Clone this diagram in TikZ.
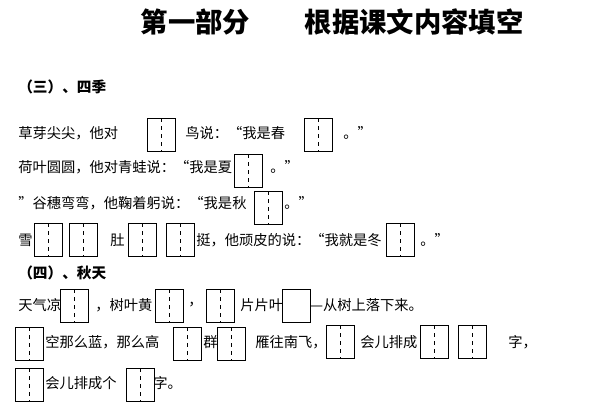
\documentclass[tikz,border=0pt]{standalone}
\usepackage{fontspec}
\setmainfont{Noto Sans CJK SC}
\usepackage{tikz}

\begin{document}
\begin{tikzpicture}[
		x=0.75pt, y=-0.75pt,
		txt/.style = {anchor=west, inner sep=0pt, font=\fontsize{10.7}{12}\selectfont},
		head/.style = {anchor=west, inner sep=0pt, font=\fontsize{11}{12}\selectfont\bfseries},
		fillbox/.style = {draw, line width=0.6pt, minimum width=21pt, minimum height=25pt, inner sep=0pt,
			path picture={\draw[dashed, line width=0.5pt] (path picture bounding box.north) -- (path picture bounding box.south);}}
	]
	\useasboundingbox (0,0) rectangle (600,420);
	\node[inner sep=0pt, font=\fontsize{20.5}{20}\selectfont\bfseries] (title) at (332,22) {第一部分\hspace{2em}根据课文内容填空};
	% (三) 四季
	\node[head] (h3) at (18,87) {（三）、四季};
	\node[txt] (a1) at (18,133) {草芽尖尖，他对};
	\node[fillbox] (b1) at (161,135) {};
	\node[txt] (a2) at (185,133) {鸟说：“我是春};
	\node[fillbox] (b2) at (318,135) {};
	\node[txt] (a3) at (343,133) {。”};
	\node[txt] (a4) at (18,167) {荷叶圆圆，他对青蛙说：“我是夏};
	\node[fillbox] (b3) at (248,171) {};
	\node[txt] (a5) at (270,167) {。”};
	\node[txt] (a6) at (18,203) {”谷穗弯弯，他鞠着躬说：“我是秋};
	\node[fillbox] (b4) at (268,208) {};
	\node[txt] (a7) at (284,203) {。”};
	\node[txt] (a8) at (18,240) {雪};
	\node[fillbox] (b5) at (48,240) {};
	\node[fillbox] (b6) at (83,240) {};
	\node[txt] (a9) at (110,240) {肚};
	\node[fillbox] (b7) at (142,240) {};
	\node[fillbox] (b8) at (180,240) {};
	\node[txt] (a10) at (196,240) {挺，他顽皮的说：“我就是冬};
	\node[fillbox] (b9) at (400,240) {};
	\node[txt] (a11) at (420,240) {。”};
	% (四) 秋天
	\node[head] (h4) at (18,273) {（四）、秋天};
	\node[txt] (c1) at (18,305) {天气凉};
	\node[fillbox] (d1) at (74,306) {};
	\node[txt] (c2) at (95,305) {，树叶黄};
	\node[fillbox] (d2) at (169,306) {};
	\node[txt] (c3) at (188,305) {，};
	\node[fillbox] (d3) at (220,306) {};
	\node[txt] (c4) at (240,305) {片片叶};
	\node[draw, line width=0.6pt, minimum width=21pt, minimum height=25pt, inner sep=0pt] (d4) at (296,306) {};
	\draw[dashed, line width=0.5pt] (d4.north east) -- (d4.south east);
	\node[txt] (c5) at (310,305) {—从树上落下来。};
	\node[fillbox] (d5) at (29,344) {};
	\node[txt] (c6) at (45,342) {空那么蓝，那么高};
	\node[fillbox] (d6) at (187,344) {};
	\node[txt] (c7) at (203,342) {群};
	\node[fillbox] (d7) at (231,344) {};
	\node[txt] (c8) at (255,342) {雁往南飞，};
	\node[fillbox] (d8) at (340,342) {};
	\node[txt] (c9) at (360,342) {会儿排成};
	\node[fillbox] (d9) at (434,342) {};
	\node[fillbox] (d10) at (472,342) {};
	\node[txt] (c10) at (508,342) {字，};
	\node[fillbox] (d11) at (29,385) {};
	\node[txt] (c11) at (45,383) {会儿排成个};
	\node[fillbox] (d12) at (140,385) {};
	\node[txt] (c12) at (153,383) {字。};
\end{tikzpicture}
\end{document}
